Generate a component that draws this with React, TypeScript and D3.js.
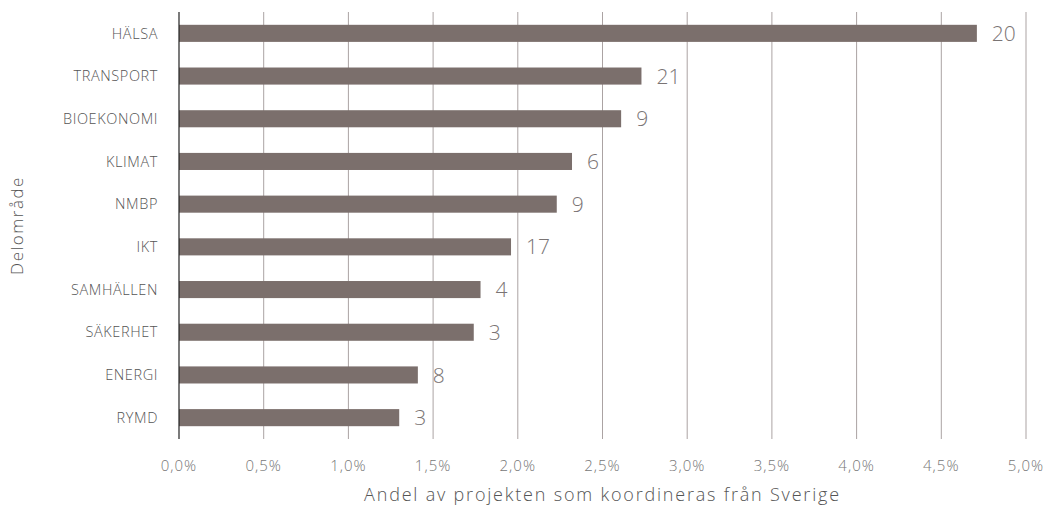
import React, { useEffect, useRef } from 'react';
import * as d3 from 'd3';

// Delområden, top to bottom
const categories = ['HÄLSA', 'TRANSPORT', 'BIOEKONOMI', 'KLIMAT', 'NMBP', 'IKT', 'SAMHÄLLEN', 'SÄKERHET', 'ENERGI', 'RYMD'];
// andel av projekten som koordineras från Sverige (%)
const shares = [4.71, 2.73, 2.61, 2.32, 2.23, 1.96, 1.78, 1.74, 1.41, 1.3];
// antal projekt
const counts = [20, 21, 9, 6, 9, 17, 4, 3, 8, 3];
const xTicks = [0, 0.5, 1, 1.5, 2, 2.5, 3, 3.5, 4, 4.5, 5];

export default function App() {
  const svgRef = useRef<SVGSVGElement>(null);

  useEffect(() => {
    document.body.style.margin = '0';
    const width = 1051;
    const height = 506;
    const margin = { top: 12, right: 25, bottom: 67, left: 179 };
    const font = '"Open Sans", "Liberation Sans", Arial, sans-serif';

    const svg = d3.select(svgRef.current).attr('width', width).attr('height', height);
    svg.selectAll('*').remove();

    const x = d3.scaleLinear().domain([0, 5]).range([margin.left, width - margin.right]);
    const y = d3
      .scaleBand()
      .domain(categories)
      .range([margin.top, height - margin.bottom])
      .paddingInner(0.6)
      .paddingOuter(0.3);

    // gridlines
    svg.append('g')
      .selectAll('line')
      .data(xTicks.slice(1))
      .enter()
      .append('line')
      .attr('x1', d => x(d))
      .attr('x2', d => x(d))
      .attr('y1', margin.top)
      .attr('y2', height - margin.bottom)
      .attr('stroke', '#aba3a3')
      .attr('stroke-width', 1);

    // bars
    svg.append('g')
      .selectAll('rect')
      .data(categories)
      .enter()
      .append('rect')
      .attr('x', x(0))
      .attr('y', d => y(d)!)
      .attr('width', (d, i) => x(shares[i]) - x(0))
      .attr('height', y.bandwidth())
      .attr('fill', '#7b6f6c');

    // axis line at 0
    svg.append('line')
      .attr('x1', x(0))
      .attr('x2', x(0))
      .attr('y1', margin.top)
      .attr('y2', height - margin.bottom)
      .attr('stroke', '#222')
      .attr('stroke-width', 1.2);

    // value labels
    svg.append('g')
      .selectAll('text')
      .data(categories)
      .enter()
      .append('text')
      .attr('x', (d, i) => x(shares[i]) + 15)
      .attr('y', d => y(d)! + y.bandwidth() / 2)
      .attr('dy', '0.36em')
      .style('font-family', font)
      .style('font-weight', 300)
      .style('font-size', '21px')
      .attr('fill', '#7a7474')
      .text((d, i) => counts[i]);

    // category labels
    svg.append('g')
      .selectAll('text')
      .data(categories)
      .enter()
      .append('text')
      .attr('x', 158)
      .attr('y', d => y(d)! + y.bandwidth() / 2)
      .attr('dy', '0.36em')
      .attr('text-anchor', 'end')
      .style('font-family', font)
      .style('font-weight', 300)
      .style('font-size', '14.5px')
      .style('letter-spacing', '0.6px')
      .attr('fill', '#555')
      .text(d => d);

    // tick labels
    const fmt = (v: number) => v.toFixed(1).replace('.', ',') + '%';
    svg.append('g')
      .selectAll('text')
      .data(xTicks)
      .enter()
      .append('text')
      .attr('x', d => x(d))
      .attr('y', 466)
      .attr('dy', '0.36em')
      .attr('text-anchor', 'middle')
      .style('font-family', font)
      .style('font-weight', 300)
      .style('font-size', '15px')
      .style('letter-spacing', '1px')
      .attr('fill', '#777')
      .text(d => fmt(d));

    // axis titles
    svg.append('text')
      .attr('x', (x(0) + x(5)) / 2)
      .attr('y', 501)
      .attr('text-anchor', 'middle')
      .style('font-family', font)
      .style('font-weight', 300)
      .style('font-size', '18px')
      .style('letter-spacing', '1.8px')
      .attr('fill', '#555')
      .text('Andel av projekten som koordineras från Sverige');

    svg.append('text')
      .attr('transform', `translate(23,${(margin.top + height - margin.bottom) / 2}) rotate(-90)`)
      .attr('text-anchor', 'middle')
      .style('font-family', font)
      .style('font-weight', 300)
      .style('font-size', '17px')
      .style('letter-spacing', '1.5px')
      .attr('fill', '#555')
      .text('Delområde');
  }, []);

  return <svg ref={svgRef} style={{ display: 'block' }} />;
}
